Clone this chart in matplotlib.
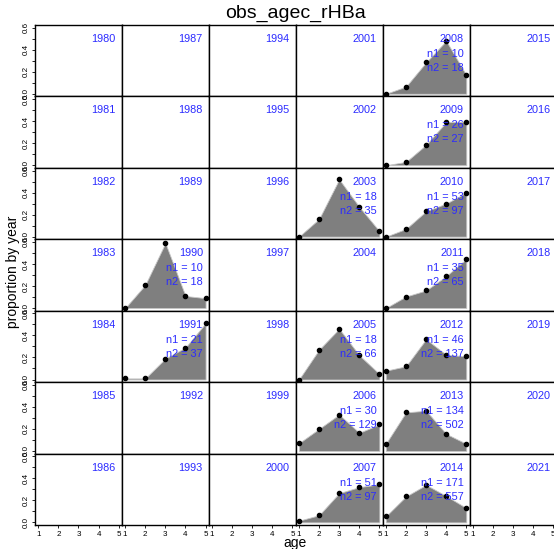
import numpy as np
import matplotlib.pyplot as plt

plt.rcParams['font.family'] = ['Liberation Sans', 'DejaVu Sans']

ages = [1, 2, 3, 4, 5]
first_year = 1980
n_rows = 7
n_cols = 6

data_years = [1990, 1991, 2003, 2005, 2006, 2007, 2008,
              2009, 2010, 2011, 2012, 2013, 2014]
props = [
    [0.00, 0.21, 0.59, 0.11, 0.09],   # 1990
    [0.01, 0.01, 0.19, 0.29, 0.51],   # 1991
    [0.00, 0.16, 0.52, 0.27, 0.05],   # 2003
    [0.00, 0.27, 0.46, 0.22, 0.05],   # 2005
    [0.07, 0.20, 0.33, 0.165, 0.24],  # 2006
    [0.015, 0.065, 0.265, 0.32, 0.345],  # 2007
    [0.00, 0.065, 0.285, 0.48, 0.17],  # 2008
    [0.00, 0.03, 0.185, 0.39, 0.395],  # 2009
    [0.00, 0.07, 0.23, 0.30, 0.40],   # 2010
    [0.00, 0.105, 0.16, 0.29, 0.445],  # 2011
    [0.08, 0.12, 0.365, 0.225, 0.21],  # 2012
    [0.065, 0.35, 0.365, 0.155, 0.065],  # 2013
    [0.055, 0.235, 0.34, 0.24, 0.13],  # 2014
]
n1 = [10, 21, 18, 18, 30, 51, 10, 26, 53, 35, 46, 134, 171]
n2 = [18, 37, 35, 66, 129, 97, 18, 27, 97, 65, 137, 502, 557]

W, H = 554, 549
fig = plt.figure(figsize=(W / 100, H / 100), dpi=100)

left_px, top_px = 35, 25
pw, ph = 86.9, 71.43
blue = '#2b2bff'

for c in range(n_cols):
    for r in range(n_rows):
        year = first_year + 7 * c + r
        x0 = (left_px + c * pw) / W
        y0 = 1 - (top_px + (r + 1) * ph) / H
        ax = fig.add_axes([x0, y0, pw / W, ph / H])
        ax.set_xlim(0.84, 5.16)
        ax.set_ylim(-0.024, 0.624)
        for s in ax.spines.values():
            s.set_linewidth(1.0)
            s.set_color('black')

        if year in data_years:
            i = data_years.index(year)
            ax.fill_between(ages, 0, props[i], facecolor='#7f7f7f',
                            edgecolor='#c8c8c8', linewidth=0.6)
            ax.plot(ages, props[i], 'o', color='black', markersize=3,
                    linestyle='none', clip_on=False, zorder=5)
            ax.text(0.931, 0.594, 'n1 = %d' % n1[i], transform=ax.transAxes,
                    ha='right', va='center', color=blue, fontsize=7.8, zorder=6)
            ax.text(0.931, 0.398, 'n2 = %d' % n2[i], transform=ax.transAxes,
                    ha='right', va='center', color=blue, fontsize=7.8, zorder=6)
        ax.text(0.931, 0.804, str(year), transform=ax.transAxes,
                ha='right', va='center', color=blue, fontsize=7.8, zorder=6)

        if r == n_rows - 1:
            ax.set_xticks(ages)
            ax.tick_params(axis='x', length=2.5, width=0.6, pad=1.5,
                           labelsize=5.8, direction='out')
        else:
            ax.set_xticks([])
        if c == 0:
            ax.set_yticks([0.0, 0.2, 0.4, 0.6])
            ax.set_yticks([0.1, 0.3, 0.5], minor=True)
            ax.set_yticklabels(['0.0', '0.2', '0.4', '0.6'], rotation=90,
                               va='center')
            ax.tick_params(axis='y', which='both', length=2.5, width=0.6,
                           pad=1, labelsize=5.8, direction='out')
        else:
            ax.set_yticks([])

fig.text(295.5 / W, 1 - 13 / H, 'obs_agec_rHBa', ha='center', va='center',
         fontsize=14)
fig.text(295.5 / W, 1 - 543 / H, 'age', ha='center', va='center', fontsize=10)
fig.text(13 / W, 1 - 272 / H, 'proportion by year', ha='center', va='center',
         rotation=90, fontsize=10)

fig.savefig('out.png', dpi=100)
